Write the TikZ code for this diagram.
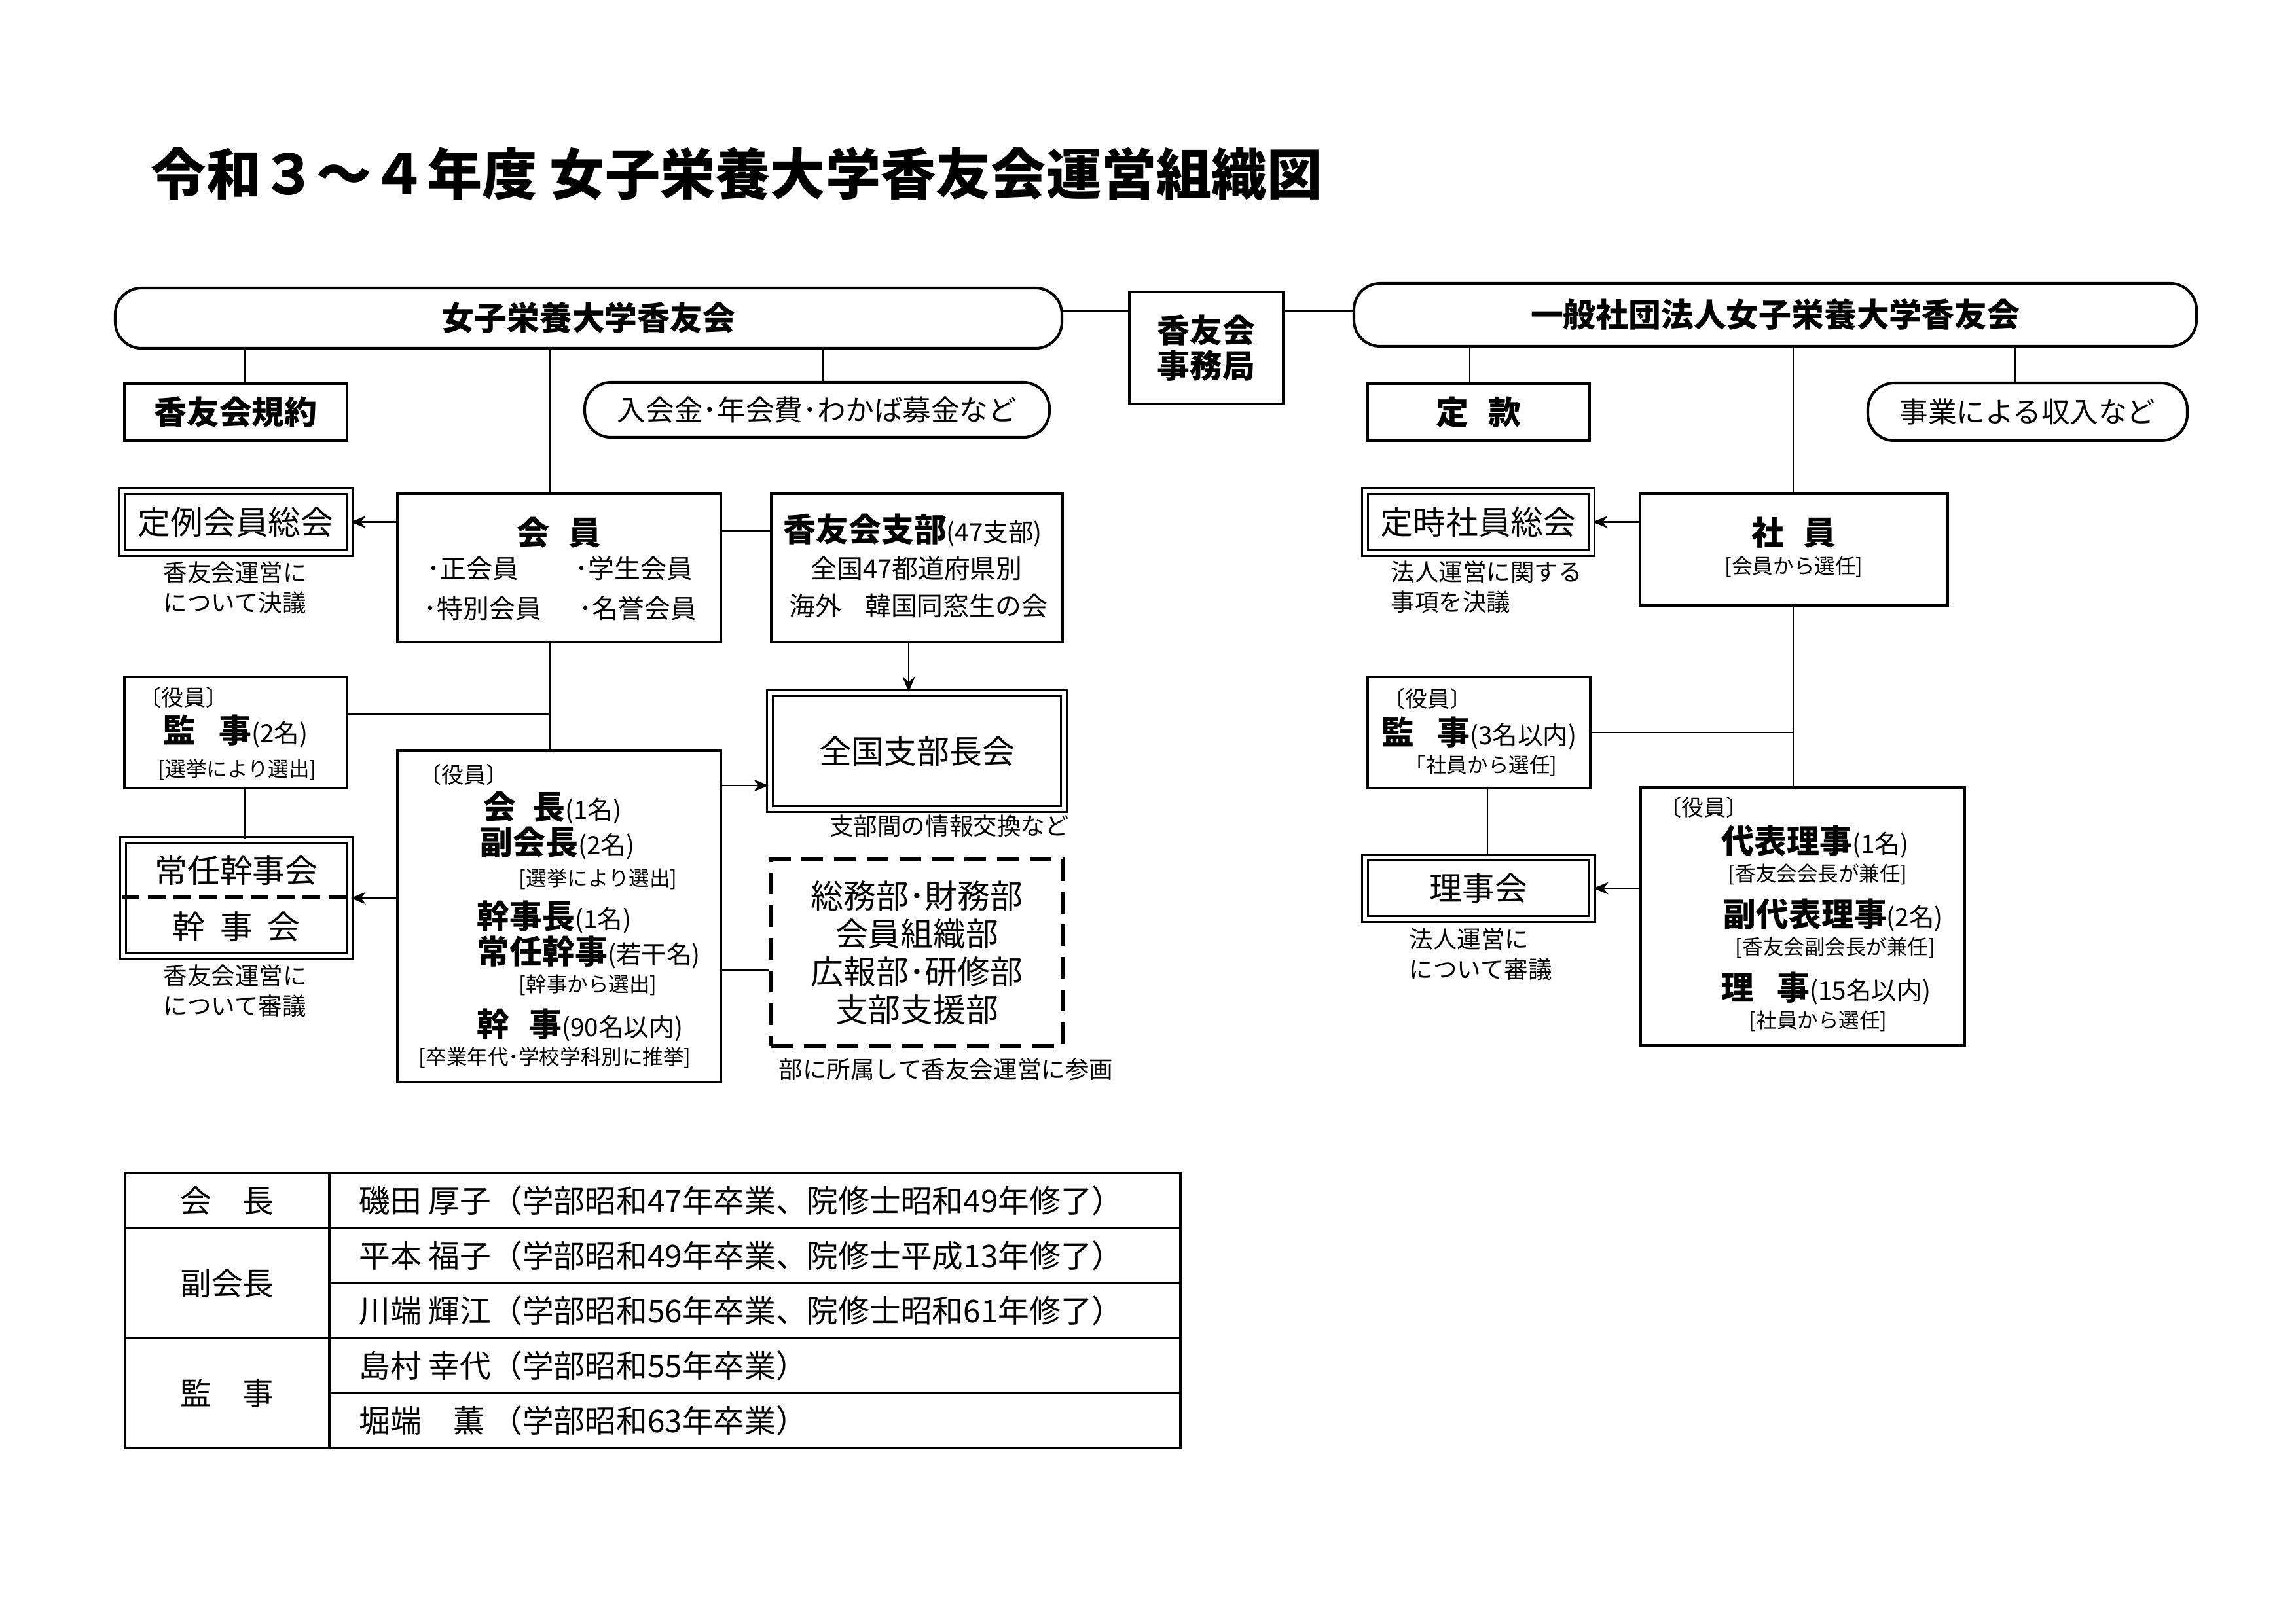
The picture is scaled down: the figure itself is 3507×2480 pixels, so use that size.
\documentclass[tikz,border=0pt]{standalone}
\usepackage{fontspec}
\setmainfont{Noto Sans CJK JP}
\usetikzlibrary{arrows.meta}
\newcommand\szT{\fontsize{20.3pt}{24pt}\selectfont}
\newcommand\szL{\fontsize{12pt}{14pt}\selectfont}
\newcommand\szM{\fontsize{10.5pt}{12.5pt}\selectfont}
\newcommand\szN{\fontsize{9.6pt}{11.5pt}\selectfont}
\newcommand\szP{\fontsize{9.3pt}{11pt}\selectfont}
\newcommand\szS{\fontsize{8.8pt}{11.1pt}\selectfont}
\newcommand\szX{\fontsize{7.6pt}{9pt}\selectfont}
\newcommand\szY{\fontsize{8.2pt}{10pt}\selectfont}
\newcommand\szTb{\fontsize{11.5pt}{13pt}\selectfont}
\newcommand\bx[6]{\node[#1, minimum width={(#5-#3)*0.08469mm}, minimum height={(#6-#4)*0.08469mm}] (#2) at ({(#3+#5)/2},{(#4+#6)/2}) {};}
\begin{document}
\begin{tikzpicture}[x=0.08469mm,y=-0.08469mm,
  box/.style={draw, line width=1pt, rectangle, inner sep=0pt},
  dbox/.style={draw, line width=0.9pt, double, double distance=1.3pt, inner sep=0pt},
  pill/.style={draw, line width=1pt, rounded corners=3.4mm, inner sep=0pt},
  dashbox/.style={draw, line width=1.6pt, dash pattern=on 8pt off 4pt, inner sep=0pt},
  conn/.style={line width=0.7pt},
  arr/.style={conn, -{Stealth[length=5.5pt,width=4.5pt]}},
  lbl/.style={inner sep=0pt},
  txt/.style={inner sep=0pt, anchor=west},
  note/.style={inner sep=0pt, anchor=west, align=left, font={\fontsize{8.8pt}{11.1pt}\selectfont}},
  tbl/.style={line width=1.1pt}]
\fill[white] (0,0) rectangle (3507,2480);
\useasboundingbox (0,0) rectangle (3507,2480);

% title
\node[txt] (title) at (230,266) {\szT\bfseries 令和３～４年度 女子栄養大学香友会運営組織図};

% ---------- boxes ----------
\bx{pill}{top}{176}{440}{1622}{532}
\bx{box}{jimu}{1725}{446}{1960}{617}
\bx{pill}{topR}{2068}{433}{3355}{529}
\bx{box}{kiyaku}{190}{586}{530}{673}
\bx{pill}{nyukai}{893}{584}{1603}{668}
\bx{box}{kaiin}{607}{754}{1101}{981}
\bx{box}{shibu}{1178}{754}{1623}{981}
\bx{dbox}{teirei}{186}{750}{534}{845}
\bx{box}{kanji}{190}{1034}{530}{1204}
\bx{dbox}{josin}{188}{1283}{534}{1461}
\bx{box}{yakuin}{607}{1147}{1101}{1653}
\bx{dbox}{zenkoku}{1176}{1059}{1625}{1236}
\bx{dashbox}{bu}{1178}{1313}{1623}{1598}
\bx{box}{teikan}{2089}{586}{2428}{673}
\bx{pill}{jigyo}{2853}{585}{3341}{673}
\bx{dbox}{teiji}{2085}{750}{2431}{845}
\bx{box}{shain}{2505}{754}{2975}{925}
\bx{box}{kanjiR}{2089}{1034}{2429}{1204}
\bx{box}{yakuinR}{2506}{1203}{3001}{1597}
\bx{dbox}{rijikai}{2085}{1310}{2432}{1404}

% dashed divider inside 常任幹事会
\draw[line width=1.3pt, dash pattern=on 6.5pt off 3pt] (josin.west |- 0,1371) -- (josin.east |- 0,1371);

% ---------- connectors ----------
\draw[conn] (top.east |- 0,475) -- (jimu.west |- 0,475);
\draw[conn] (jimu.east |- 0,475) -- (topR.west |- 0,475);
\draw[conn] (374,0 |- top.south) -- (374,0 |- kiyaku.north);
\draw[conn] (840,0 |- top.south) -- (840,0 |- kaiin.north);
\draw[conn] (1257,0 |- top.south) -- (1257,0 |- nyukai.north);
\draw[conn] (kaiin.east |- 0,811) -- (shibu.west |- 0,811);
\draw[arr] (kaiin.west |- teirei.east) -- (teirei.east);
\draw[conn] (840,0 |- kaiin.south) -- (840,0 |- yakuin.north);
\draw[conn] (kanji.east |- 0,1091) -- (840,1091);
\draw[conn] (374,0 |- kanji.south) -- (374,0 |- josin.north);
\draw[arr] (yakuin.west |- josin.east) -- (josin.east);
\draw[arr] (yakuin.east |- 0,1200) -- (zenkoku.west |- 0,1200);
\draw[arr] (1388,0 |- shibu.south) -- (1388,0 |- zenkoku.north);
\draw[conn] (yakuin.east |- 0,1482) -- (bu.west |- 0,1482);

\draw[conn] (2245,0 |- topR.south) -- (2245,0 |- teikan.north);
\draw[conn] (2739,0 |- topR.south) -- (2739,0 |- shain.north);
\draw[conn] (3078,0 |- topR.south) -- (3078,0 |- jigyo.north);
\draw[arr] (shain.west |- teiji.east) -- (teiji.east);
\draw[conn] (2739,0 |- shain.south) -- (2739,0 |- yakuinR.north);
\draw[conn] (kanjiR.east |- 0,1119) -- (2739,1119);
\draw[conn] (2272,0 |- kanjiR.south) -- (2272,0 |- rijikai.north);
\draw[arr] (yakuinR.west |- rijikai.east) -- (rijikai.east);

% ---------- texts: top row ----------
\node[lbl] (t_top) at (top) {\szL\bfseries 女子栄養大学香友会};
\node[lbl, align=center, font={\fontsize{12pt}{13pt}\selectfont\bfseries}] (t_jimu) at (jimu) {香友会\\事務局};
\node[lbl] (t_topR) at (topR) {\szL\bfseries 一般社団法人女子栄養大学香友会};
\node[lbl] (t_kiyaku) at (kiyaku) {\szL\bfseries 香友会規約};
\node[lbl] (t_nyukai) at (nyukai) {\szM 入会金･年会費･わかば募金など};
\node[lbl] (t_teikan) at (teikan) {\szL\bfseries 定\hspace{0.6em}款};
\node[lbl] (t_jigyo) at (jigyo) {\szM 事業による収入など};

% ---------- left column ----------
\node[lbl] (t_teirei) at (teirei) {\szL 定例会員総会};
\node[note] (n_teirei) at (249,898) {香友会運営に\\について決議};

\node[lbl] (t_kaiin) at (854,814) {\szL\bfseries 会\hspace{0.6em}員};
\node[txt] (k1) at (652,868) {\szN ･正会員};
\node[txt] (k2) at (878,868) {\szN ･学生会員};
\node[txt] (k3) at (647,929) {\szN ･特別会員};
\node[txt] (k4) at (884,929) {\szN ･名誉会員};

\node[txt] (s1) at (1196,810) {{\szL\bfseries 香友会支部}{\szP (47支部)}};
\node[lbl] (s2) at (1400,868) {\szN 全国47都道府県別};
\node[lbl] (s3) at (1403,925) {\szN 海外\hspace{0.9em}韓国同窓生の会};

\node[txt] (kj1) at (212,1066) {\szY 〔役員〕};
\node[txt] (kj2) at (249,1117) {{\szL\bfseries 監\hspace{0.7em}事}{\szP (2名)}};
\node[txt] (kj3) at (241,1176) {\szX [選挙により選出]};

\node[lbl] (t_josin1) at (361,1330) {\szL 常任幹事会};
\node[lbl] (t_josin2) at (361,1416) {\szL 幹\hspace{0.45em}事\hspace{0.45em}会};
\node[note] (n_josin) at (249,1514) {香友会運営に\\について審議};

\node[txt] (y0) at (640,1184) {\szY 〔役員〕};
\node[txt] (y1) at (738,1234) {{\szL\bfseries 会\hspace{0.5em}長}{\szP (1名)}};
\node[txt] (y2) at (733,1288) {{\szL\bfseries 副会長}{\szP (2名)}};
\node[txt] (y3) at (792,1343) {\szX [選挙により選出]};
\node[txt] (y4) at (728,1401) {{\szL\bfseries 幹事長}{\szP (1名)}};
\node[txt] (y5) at (728,1455) {{\szL\bfseries 常任幹事}{\szP (若干名)}};
\node[txt] (y6) at (792,1505) {\szX [幹事から選出]};
\node[txt] (y7) at (728,1566) {{\szL\bfseries 幹\hspace{0.6em}事}{\szP (90名以内)}};
\node[txt] (y8) at (639,1616) {\szX [卒業年代･学校学科別に推挙]};

\node[lbl] (t_zenkoku) at (zenkoku) {\szL 全国支部長会};
\node[lbl] (n_zenkoku) at (1450,1262) {\szS 支部間の情報交換など};
\node[lbl, align=center, font={\fontsize{12pt}{14pt}\selectfont}] (t_bu) at (bu) {総務部･財務部\\会員組織部\\広報部･研修部\\支部支援部};
\node[lbl] (n_bu) at (1445,1634) {\szS 部に所属して香友会運営に参画};

% ---------- right column ----------
\node[lbl] (t_teiji) at (teiji) {\szL 定時社員総会};
\node[note] (n_teiji) at (2124,897) {法人運営に関する\\事項を決議};
\node[lbl] (t_shain) at (2740,814) {\szL\bfseries 社\hspace{0.6em}員};
\node[lbl] (t_shain2) at (2740,866) {\szX [会員から選任]};

\node[txt] (kr0) at (2112,1068) {\szY 〔役員〕};
\node[txt] (kr1) at (2110,1120) {{\szL\bfseries 監\hspace{0.7em}事}{\szP (3名以内)}};
\node[txt] (kr2) at (2146,1170) {\szX 「社員から選任]};

\node[lbl] (t_riji) at (rijikai) {\szL 理事会};
\node[note] (n_riji) at (2152,1458) {法人運営に\\について審議};

\node[txt] (r0) at (2534,1234) {\szY 〔役員〕};
\node[txt] (r1) at (2629,1286) {{\szL\bfseries 代表理事}{\szP (1名)}};
\node[txt] (r2) at (2639,1336) {\szX [香友会会長が兼任]};
\node[txt] (r3) at (2632,1398) {{\szL\bfseries 副代表理事}{\szP (2名)}};
\node[txt] (r4) at (2650,1448) {\szX [香友会副会長が兼任]};
\node[txt] (r5) at (2629,1510) {{\szL\bfseries 理\hspace{0.7em}事}{\szP (15名以内)}};
\node[txt] (r6) at (2671,1560) {\szX [社員から選任]};

% ---------- table ----------
\draw[tbl] (191,1792) rectangle (1803,2212);
\draw[tbl] (503,1792) -- (503,2212);
\draw[tbl] (191,1876) -- (1803,1876);
\draw[tbl] (191,2044) -- (1803,2044);
\draw[tbl] (503,1960) -- (1803,1960);
\draw[tbl] (503,2128) -- (1803,2128);
\node[lbl] (c1) at (347,1834) {\szTb 会　長};
\node[lbl] (c2) at (347,1960) {\szTb 副会長};
\node[lbl] (c3) at (347,2128) {\szTb 監　事};
\node[txt] (m1) at (548,1834) {\szTb 磯田 厚子（学部昭和47年卒業、院修士昭和49年修了）};
\node[txt] (m2) at (548,1918) {\szTb 平本 福子（学部昭和49年卒業、院修士平成13年修了）};
\node[txt] (m3) at (548,2002) {\szTb 川端 輝江（学部昭和56年卒業、院修士昭和61年修了）};
\node[txt] (m4) at (548,2086) {\szTb 島村 幸代（学部昭和55年卒業）};
\node[txt] (m5) at (548,2170) {\szTb 堀端　薫 （学部昭和63年卒業）};
\end{tikzpicture}
\end{document}
